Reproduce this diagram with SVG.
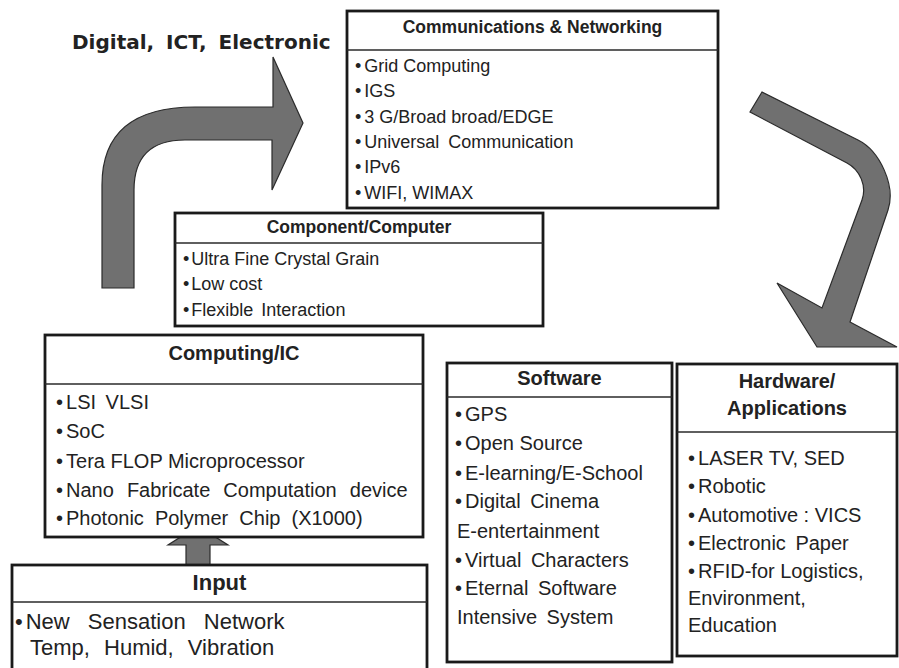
<svg xmlns="http://www.w3.org/2000/svg" width="899" height="668" viewBox="0 0 899 668">
<style>
.box{fill:#fff;stroke:#1a1a1a;stroke-width:2.8}
.dv{stroke:#2a2a2a;stroke-width:1.5}
.t{font-family:"Liberation Sans",Arial,sans-serif;fill:#222}
.h{font-weight:bold;text-anchor:middle}
.s17{font-size:17.5px}
.s18{font-size:18px}
.s20{font-size:20px}
.s22{font-size:22px}
.arrow{fill:#707070;stroke:#2b2b2b;stroke-width:1.2;stroke-linejoin:miter}
</style>
<rect width="899" height="668" fill="#fff"/>
<text x="72" y="49" font-family="'DejaVu Sans',Verdana,sans-serif" font-weight="bold" font-size="20" word-spacing="5" fill="#222">Digital, ICT, Electronic</text>
<g id="connectors">
<path class="arrow" d="M102,288 L102,185 Q102,107 195,107 L273,107 L273,57 L303,123 L272,190 L272,140 L185,140 Q134,140 134,190 L134,288 Z"/>
<path class="arrow" d="M762,92 L858,140 C880,151 896,186 888,210 L850,322 L897,347 L817,347 L777,283 L822,308 L862,200 C867,186 860,170 847,163 L750,112 Z"/>
<path class="arrow" d="M186,567 L186,545 L168,545 L198,526 L228,545 L210,545 L210,567 Z"/>
</g>
<g id="comms">
<rect class="box" x="347" y="11" width="371" height="197"/>
<line class="dv" x1="347" y1="50" x2="718" y2="50"/>
<text class="t h s17" x="532.5" y="33">Communications &amp; Networking</text>
<text class="t s18" x="355" y="72">•<tspan dx="3">Grid Computing</tspan></text>
<text class="t s18" x="355" y="97">•<tspan dx="3">IGS</tspan></text>
<text class="t s18" x="355" y="123">•<tspan dx="3">3 G/Broad broad/EDGE</tspan></text>
<text class="t s18" x="355" y="148" word-spacing="4">•<tspan dx="3">Universal Communication</tspan></text>
<text class="t s18" x="355" y="173">•<tspan dx="3">IPv6</tspan></text>
<text class="t s18" x="355" y="199">•<tspan dx="3">WIFI, WIMAX</tspan></text>
</g>
<g id="component">
<rect class="box" x="175" y="213" width="368" height="113"/>
<line class="dv" x1="175" y1="243" x2="543" y2="243"/>
<text class="t h s17" x="359" y="233">Component/Computer</text>
<text class="t s18" x="183" y="265">•<tspan dx="2">Ultra Fine Crystal Grain</tspan></text>
<text class="t s18" x="183" y="290">•<tspan dx="2">Low cost</tspan></text>
<text class="t s18" x="183" y="316" word-spacing="3">•<tspan dx="2">Flexible Interaction</tspan></text>
</g>
<g id="computing">
<rect class="box" x="45" y="335" width="378" height="202"/>
<line class="dv" x1="45" y1="384" x2="423" y2="384"/>
<text class="t h s20" x="234" y="360">Computing/IC</text>
<text class="t s20" x="56" y="409" word-spacing="4">•<tspan dx="3">LSI VLSI</tspan></text>
<text class="t s20" x="56" y="438">•<tspan dx="3">SoC</tspan></text>
<text class="t s20" x="56" y="468">•<tspan dx="3">Tera FLOP Microprocessor</tspan></text>
<text class="t s20" x="56" y="497" word-spacing="7.5">•<tspan dx="3">Nano Fabricate Computation device</tspan></text>
<text class="t s20" x="56" y="525" word-spacing="5.5">•<tspan dx="3">Photonic Polymer Chip (X1000)</tspan></text>
</g>
<g id="input">
<rect class="box" x="12" y="565" width="415" height="112"/>
<line class="dv" x1="12" y1="602" x2="427" y2="602"/>
<text class="t h" x="219.5" y="590" font-size="22">Input</text>
<text class="t s22" x="15" y="629" word-spacing="12">•<tspan dx="3">New Sensation Network</tspan></text>
<text class="t s22" x="30" y="655" word-spacing="8">Temp, Humid, Vibration</text>
</g>
<g id="software">
<rect class="box" x="447" y="363" width="225" height="299"/>
<line class="dv" x1="447" y1="397" x2="672" y2="397"/>
<text class="t h s20" x="559.5" y="385">Software</text>
<text class="t s20" x="455" y="421">•<tspan dx="3">GPS</tspan></text>
<text class="t s20" x="455" y="450">•<tspan dx="3">Open Source</tspan></text>
<text class="t s20" x="455" y="480">•<tspan dx="3">E-learning/E-School</tspan></text>
<text class="t s20" x="455" y="508" word-spacing="4">•<tspan dx="3">Digital Cinema</tspan></text>
<text class="t s20" x="457" y="538">E-entertainment</text>
<text class="t s20" x="455" y="567" word-spacing="4">•<tspan dx="3">Virtual Characters</tspan></text>
<text class="t s20" x="455" y="595" word-spacing="4">•<tspan dx="3">Eternal Software</tspan></text>
<text class="t s20" x="457" y="624" word-spacing="4">Intensive System</text>
</g>
<g id="hardware">
<rect class="box" x="677" y="364" width="220" height="292"/>
<line class="dv" x1="677" y1="432" x2="897" y2="432"/>
<text class="t h s20" x="787" y="388">Hardware/</text>
<text class="t h s20" x="787" y="415">Applications</text>
<text class="t s20" x="688" y="465">•<tspan dx="3">LASER TV, SED</tspan></text>
<text class="t s20" x="688" y="493">•<tspan dx="3">Robotic</tspan></text>
<text class="t s20" x="688" y="522">•<tspan dx="3">Automotive : VICS</tspan></text>
<text class="t s20" x="688" y="550" word-spacing="4">•<tspan dx="3">Electronic Paper</tspan></text>
<text class="t s20" x="688" y="578">•<tspan dx="3">RFID-for Logistics,</tspan></text>
<text class="t s20" x="688" y="605">Environment,</text>
<text class="t s20" x="688" y="632">Education</text>
</g>
</svg>
